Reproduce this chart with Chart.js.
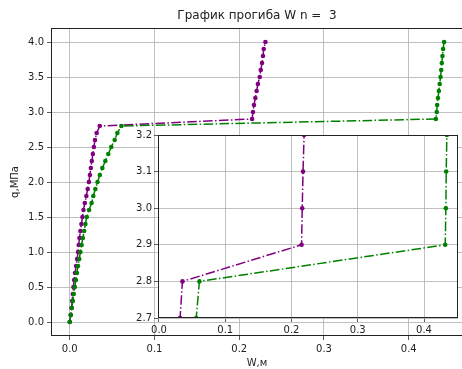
<!DOCTYPE html>
<html>
<head>
<meta charset="utf-8">
<script src="https://cdn.jsdelivr.net/npm/chart.js@4.4.1/dist/chart.umd.min.js"></script>
<style>
html, body { margin: 0; padding: 0; background: #fff; overflow: hidden; width: 462px; height: 369px; }
#main { position: absolute; left: 0; top: 0; }
#inset { position: absolute; left: 118px; top: 127px; }
</style>
</head>
<body>
<canvas id="main" width="472" height="369"></canvas>
<canvas id="inset" width="345" height="215"></canvas>
<script>
// q load steps (y) and deflections W (x)
var qValues = [0.0, 0.1, 0.2, 0.3, 0.4, 0.5, 0.6, 0.7, 0.8, 0.9,
               1.0, 1.1, 1.2, 1.3, 1.4, 1.5, 1.6, 1.7, 1.8, 1.9,
               2.0, 2.1, 2.2, 2.3, 2.4, 2.5, 2.6, 2.7, 2.8, 2.9,
               3.0, 3.1, 3.2, 3.3, 3.4, 3.5, 3.6, 3.7, 3.8, 3.9, 4.0];

var wPurple = [0.0, 0.0012, 0.0021, 0.0028, 0.0036, 0.0044, 0.0052, 0.0063, 0.0075, 0.0087,
               0.0098, 0.0106, 0.0115, 0.0126, 0.0138, 0.0150, 0.0162, 0.0178, 0.0196, 0.0212,
               0.0226, 0.0238, 0.0249, 0.0261, 0.0273, 0.0285, 0.0298, 0.0318, 0.0354, 0.2152,
               0.2162, 0.2174, 0.2190, 0.2205, 0.2220, 0.2242, 0.2254, 0.2269, 0.2280, 0.2289, 0.2309];

var wGreen = [0.0, 0.0012, 0.0024, 0.0036, 0.0048, 0.0060, 0.0072, 0.0085, 0.0098, 0.0112,
              0.0126, 0.0140, 0.0155, 0.0170, 0.0185, 0.0201, 0.0228, 0.0258, 0.0278, 0.0302,
              0.0328, 0.0355, 0.0385, 0.0420, 0.0455, 0.0490, 0.0530, 0.0562, 0.0610, 0.4320,
              0.4330, 0.4335, 0.4345, 0.4355, 0.4365, 0.4375, 0.4383, 0.4390, 0.4398, 0.4405, 0.4417];

var mainXTicks = [0.0, 0.1, 0.2, 0.3, 0.4];
var mainYTicks = [0.0, 0.5, 1.0, 1.5, 2.0, 2.5, 3.0, 3.5, 4.0];
var insetXTicks = [0.0, 0.1, 0.2, 0.3, 0.4];
var insetYTicks = [2.7, 2.8, 2.9, 3.0, 3.1, 3.2];

Chart.defaults.font.family = "'DejaVu Sans', sans-serif";
Chart.defaults.font.size = 10;
Chart.defaults.color = '#222';

function toPoints(w) {
    return w.map(function (v, i) { return {x: v, y: qValues[i]}; });
}

function series(color, w, order) {
    return {
        data: toPoints(w),
        borderColor: color,
        backgroundColor: color,
        borderWidth: 1.5,
        borderDash: [9.6, 2.4, 1.5, 2.4],
        pointRadius: 2.3,
        pointHoverRadius: 2.3,
        pointBorderWidth: 0,
        pointBackgroundColor: color,
        tension: 0,
        order: order
    };
}

var framePlugin = {
    id: 'frame',
    afterDatasetsDraw: function (chart) {
        var a = chart.chartArea, c = chart.ctx;
        c.save();
        c.strokeStyle = '#222';
        c.lineWidth = 1;
        c.strokeRect(Math.round(a.left) + 0.5, Math.round(a.top) + 0.5,
                     Math.round(a.right - a.left) - 1, Math.round(a.bottom - a.top) - 1);
        c.restore();
    }
};

var whitePlugin = {
    id: 'white',
    beforeDraw: function (chart) {
        var a = chart.chartArea, c = chart.ctx;
        c.save();
        c.fillStyle = '#fff';
        c.fillRect(a.left, a.top, a.right - a.left, a.bottom - a.top);
        c.restore();
    }
};

function fmt(v) { return Number(v).toFixed(1); }

function axis(min, max, tickList, fitSize, horizontal, pad) {
    return {
        type: 'linear',
        min: min,
        max: max,
        afterBuildTicks: function (scale) {
            scale.ticks = tickList.map(function (v) { return {value: v}; });
        },
        afterFit: function (scale) {
            if (horizontal) scale.height = fitSize; else scale.width = fitSize;
        },
        ticks: { callback: fmt, padding: pad, autoSkip: false, maxRotation: 0 },
        grid: { color: '#b0b0b0', lineWidth: 0.8, tickLength: 4, tickColor: '#333', tickWidth: 0.8 },
        border: { display: false }
    };
}

var mainX = axis(-0.0221, 0.464, mainXTicks, 33, true, 3);
mainX.title = { display: true, text: 'W,м', padding: {top: 0, bottom: 0} };
var mainY = axis(-0.2, 4.2, mainYTicks, 51, false, 3);
mainY.title = { display: true, text: 'q,МПа', padding: 9 };

new Chart(document.getElementById('main'), {
    type: 'line',
    data: { datasets: [series('#800080', wPurple, 2), series('#008000', wGreen, 1)] },
    options: {
        responsive: false,
        animation: false,
        devicePixelRatio: 1,
        layout: { padding: { left: 0, right: 9, top: 0, bottom: 0 } },
        plugins: {
            legend: { display: false },
            tooltip: { enabled: false },
            title: {
                display: true,
                text: 'График прогиба W n =  3',
                fullSize: false,
                font: { size: 12, weight: 'normal' },
                padding: { top: 9, bottom: 4.6 }
            }
        },
        scales: { x: mainX, y: mainY }
    },
    plugins: [framePlugin]
});

new Chart(document.getElementById('inset'), {
    type: 'line',
    data: { datasets: [series('#800080', wPurple, 2), series('#008000', wGreen, 1)] },
    options: {
        responsive: false,
        animation: false,
        devicePixelRatio: 1,
        layout: { padding: { left: 0, right: 5, top: 8, bottom: 0 } },
        plugins: { legend: { display: false }, tooltip: { enabled: false } },
        scales: {
            x: axis(-0.0015, 0.4513, insetXTicks, 24, true, 2),
            y: axis(2.7, 3.2, insetYTicks, 40, false, 2)
        }
    },
    plugins: [whitePlugin, framePlugin]
});
</script>
</body>
</html>
